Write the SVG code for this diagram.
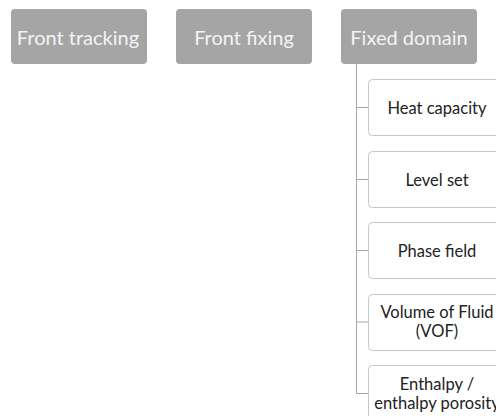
<svg xmlns="http://www.w3.org/2000/svg" width="496" height="416" viewBox="0 0 496 416">
<style>
.top rect{fill:#a5a5a5;}
.top text{fill:#f4f4f4;font-family:Lato,"Open Sans",sans-serif;font-size:20px;text-anchor:middle;}
.child rect{fill:#ffffff;stroke:#c6c6c6;stroke-width:1;}
.child text{fill:#222222;font-family:Lato,"Open Sans",sans-serif;font-size:16.5px;text-anchor:middle;}
.conn path{stroke:#a5a5a5;stroke-width:1;fill:none;}
</style>
<rect width="496" height="416" fill="#ffffff"/>
<g class="conn" id="connectors">
<path d="M356.5 64 V393.5"/>
<path d="M356.5 107.5 H368"/>
<path d="M356.5 179.5 H368"/>
<path d="M356.5 250.5 H368"/>
<path d="M356.5 322 H368"/>
<path d="M356.5 393.5 H368"/>
</g>
<g class="top" id="front-tracking"><rect x="11" y="9" width="136" height="55" rx="4"/><text x="78" y="44.5">Front tracking</text></g>
<g class="top" id="front-fixing"><rect x="176" y="9" width="136" height="55" rx="4"/><text x="244" y="44.5">Front fixing</text></g>
<g class="top" id="fixed-domain"><rect x="341" y="9" width="136" height="55" rx="4"/><text x="409" y="44.5">Fixed domain</text></g>
<g class="child" id="heat-capacity"><rect x="368.5" y="79.5" width="137" height="56" rx="4"/><text x="437" y="113.5">Heat capacity</text></g>
<g class="child" id="level-set"><rect x="368.5" y="151.5" width="137" height="56" rx="4"/><text x="437" y="185.5">Level set</text></g>
<g class="child" id="phase-field"><rect x="368.5" y="222.5" width="137" height="56" rx="4"/><text x="437" y="256.5">Phase field</text></g>
<g class="child" id="vof"><rect x="368.5" y="294.5" width="137" height="56" rx="4"/><text x="437" y="318">Volume of Fluid</text><text x="437" y="337">(VOF)</text></g>
<g class="child" id="enthalpy"><rect x="368.5" y="365.5" width="137" height="56" rx="4"/><text x="437" y="390">Enthalpy /</text><text x="437" y="409">enthalpy porosity</text></g>
</svg>
